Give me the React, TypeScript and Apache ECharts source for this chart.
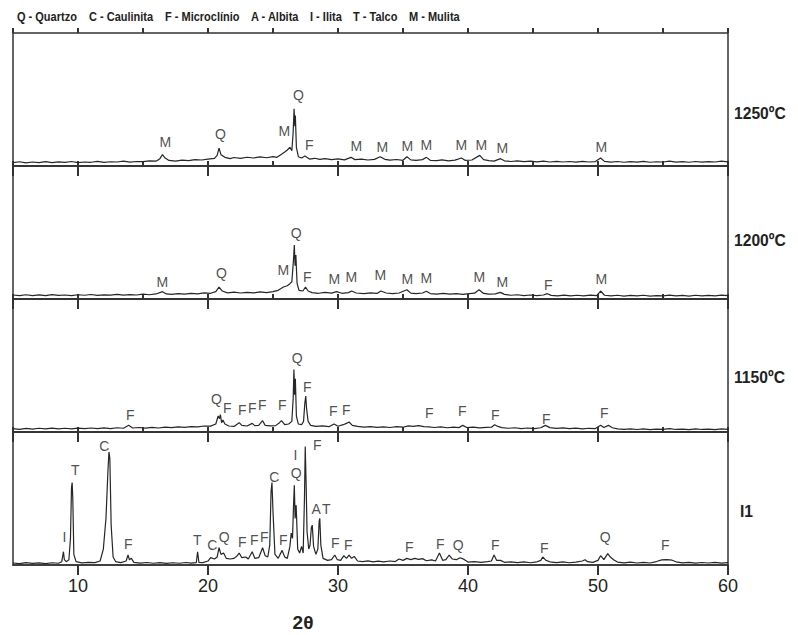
import React, { useEffect, useRef } from "react";
import * as echarts from "echarts";

const xTickLabels = [10, 20, 30, 40, 50, 60];
const panelNames = ["1250ºC", "1200ºC", "1150ºC", "I1"];
const legendItems = ["Q - Quartzo", "C - Caulinita", "F - Microclínio", "A - Albita", "I - Ilita", "T - Talco", "M - Mulita"];

const trace1250: number[][] = [[5,2.5],[5.5,3.2],[6,2.4],[6.5,3.0],[7,2.6],[7.5,3.3],[8,2.5],[8.5,3.1],[9,2.7],[9.5,3.4],[10,2.6],[10.5,3.0],[11,2.8],[11.5,3.5],[12,2.7],[12.5,3.2],[13,3.0],[13.5,3.6],[14,2.9],[14.5,3.4],[15,3.3],[15.5,3.9],[16,3.6],[16.3,5.5],[16.5,8.5],[16.7,6],[17,4.2],[17.5,3.6],[18,4.4],[18.5,4.0],[19,4.8],[19.5,4.5],[20,5.2],[20.5,5.8],[20.7,8],[20.85,13.5],[21,8.5],[21.3,6.5],[21.7,5.5],[22,6.4],[22.5,5.8],[23,6.6],[23.5,6.0],[24,6.8],[24.5,6.2],[25,7.0],[25.3,6.5],[25.6,8.5],[25.9,10.5],[26.1,12],[26.3,14],[26.45,11.5],[26.55,25],[26.62,43],[26.68,30],[26.72,38],[26.8,14],[26.95,7],[27.2,6],[27.45,7.5],[27.6,6.5],[27.8,5.2],[28.2,5.8],[28.6,5],[29,5.6],[29.5,4.8],[30,5.3],[30.5,4.6],[31,6.5],[31.3,4.8],[31.8,5.2],[32.3,4.5],[32.8,5],[33.25,7],[33.6,5],[34,4.4],[34.5,4.9],[35,4.3],[35.3,7],[35.6,4.6],[36,4.2],[36.5,4.8],[36.8,6.5],[37.1,4.3],[37.6,4.0],[38,4.6],[38.5,3.9],[39,4.4],[39.5,6],[39.8,4.2],[40.3,4.5],[40.9,8],[41.2,4.8],[41.6,4.1],[42,3.7],[42.5,5.5],[42.8,3.9],[43.3,3.4],[43.8,3.9],[44.3,3.3],[44.8,3.7],[45.3,3.1],[45.8,3.6],[46.3,3.0],[46.8,3.5],[47.3,3.0],[47.8,3.4],[48.3,2.9],[48.8,3.5],[49.3,3.0],[49.8,3.3],[50.2,6],[50.5,3.5],[51,2.9],[51.5,3.4],[52,2.8],[52.5,3.3],[53,2.9],[53.5,3.5],[54,2.8],[54.5,3.2],[55,3.0],[55.5,3.6],[56,2.9],[56.5,3.3],[57,2.8],[57.5,3.4],[58,2.9],[58.5,3.3],[59,3.0],[59.5,3.6],[60,3.1]];

const trace1200: number[][] = [[5,3],[5.5,2.5],[6,3.2],[6.5,2.6],[7,3.1],[7.5,2.5],[8,3.3],[8.5,2.7],[9,3.0],[9.5,2.6],[10,3.2],[10.5,2.8],[11,3.4],[11.5,2.7],[12,3.1],[12.5,2.9],[13,3.5],[13.5,2.9],[14,3.3],[14.5,3.0],[15,3.6],[15.5,3.2],[16,3.8],[16.5,5.5],[16.8,3.8],[17.2,3.5],[17.7,4.0],[18.2,3.6],[18.7,4.2],[19.2,3.9],[19.7,4.6],[20.2,4.3],[20.6,5.5],[20.85,9],[21.1,6],[21.5,4.6],[22,5.2],[22.5,4.5],[23,5.0],[23.5,4.6],[24,5.3],[24.5,4.8],[25,5.5],[25.4,6.5],[25.8,9],[26.1,10],[26.3,11.5],[26.45,13],[26.58,30],[26.64,40.5],[26.7,25],[26.76,33],[26.85,12],[27,6.5],[27.3,6],[27.5,9],[27.7,6],[28,4.8],[28.5,4.3],[29,5],[29.5,4.4],[29.9,5.5],[30.3,4.3],[30.8,4.8],[31.05,6],[31.4,4.5],[32,4.0],[32.5,4.6],[33,4.2],[33.3,6],[33.7,4.5],[34.2,4.0],[34.7,4.5],[35.3,7],[35.6,4.4],[36,4.0],[36.5,4.5],[36.8,5.8],[37.1,4.1],[37.6,3.7],[38.1,4.2],[38.6,3.6],[39.1,4.0],[39.6,3.5],[40.1,4.1],[40.5,4.4],[40.85,7],[41.2,4.2],[41.6,3.6],[42.1,3.9],[42.5,5],[42.8,3.5],[43.3,2.8],[43.8,3.2],[44.3,2.6],[44.8,3.0],[45.3,2.5],[45.8,3.0],[46.1,4],[46.4,2.7],[46.9,2.4],[47.4,2.9],[47.9,2.3],[48.4,2.8],[48.9,2.4],[49.4,2.9],[49.9,2.6],[50.2,6],[50.5,2.8],[51,2.3],[51.5,2.8],[52,2.2],[52.5,2.7],[53,2.3],[53.5,2.8],[54,2.2],[54.5,2.6],[55,2.3],[55.5,2.9],[56,2.3],[56.5,2.7],[57,2.2],[57.5,2.8],[58,2.3],[58.5,2.7],[59,2.4],[59.5,2.9],[60,2.5]];

const trace1150: number[][] = [[5,2.5],[5.5,2.0],[6,2.7],[6.5,2.2],[7,2.8],[7.5,2.3],[8,2.9],[8.5,2.4],[9,2.8],[9.5,2.3],[10,2.9],[10.5,2.5],[11,3.0],[11.5,2.5],[12,3.1],[12.5,2.6],[13,3.2],[13.5,2.8],[13.9,5],[14.2,3.0],[14.7,3.4],[15.2,2.9],[15.7,3.5],[16.2,3.0],[16.7,3.7],[17.2,3.3],[17.7,3.9],[18.2,3.5],[18.7,4.1],[19.2,3.8],[19.7,4.5],[20.2,4.4],[20.6,6],[20.78,12],[20.88,10],[20.95,13],[21.05,7],[21.15,9],[21.3,6],[21.6,4.5],[22,4.2],[22.4,7],[22.6,5],[23,4.5],[23.4,6.5],[23.6,4.8],[23.9,5],[24.2,8.5],[24.4,5],[24.8,4.6],[25.2,4.8],[25.5,7],[25.65,8.5],[25.9,5.5],[26.2,6],[26.45,8],[26.55,25],[26.61,47],[26.66,28],[26.72,40],[26.8,12],[26.95,6],[27.2,5.5],[27.35,8],[27.45,22],[27.52,27],[27.58,18],[27.7,8],[27.9,5],[28.3,4.2],[28.8,4.6],[29.3,4.0],[29.7,6],[30,4.3],[30.4,5.5],[30.65,6.5],[30.85,7.5],[31.1,5],[31.5,4.2],[32,3.6],[32.5,4.1],[33,3.5],[33.5,3.9],[34,3.4],[34.5,4.0],[35,3.6],[35.4,4.6],[35.8,4.2],[36.2,4.8],[36.6,4.0],[37,3.8],[37.4,3.4],[37.9,3.8],[38.4,3.2],[38.9,3.6],[39.3,3.3],[39.6,5],[39.9,3.4],[40.4,3.7],[40.9,3.1],[41.4,3.5],[41.8,3.6],[42.05,5.5],[42.3,4.2],[42.6,3.3],[43.1,2.8],[43.6,3.2],[44.1,2.6],[44.6,3.0],[45.1,2.6],[45.6,3.2],[45.95,5],[46.3,3.3],[46.8,2.7],[47.3,3.1],[47.8,2.5],[48.3,2.9],[48.8,2.4],[49.3,2.8],[49.8,2.6],[50.2,5],[50.45,3.4],[50.8,5],[51.1,3.2],[51.5,2.4],[52,2.0],[52.5,2.4],[53,1.9],[53.5,2.3],[54,1.8],[54.5,2.2],[55,2.0],[55.5,2.5],[56,1.9],[56.5,2.2],[57,1.8],[57.5,2.3],[58,1.9],[58.5,2.2],[59,1.8],[59.5,2.3],[60,2.0]];

const traceI1: number[][] = [[5,1.5],[5.5,1.0],[6,1.8],[6.5,1.2],[7,1.6],[7.5,1.1],[8,1.7],[8.5,1.3],[8.75,2.5],[8.88,10],[8.95,4],[9.1,2.5],[9.3,4],[9.42,20],[9.5,58],[9.55,62],[9.6,50],[9.68,8],[9.85,2.5],[10.3,1.6],[10.8,2.0],[11.3,1.8],[11.7,3],[11.95,12],[12.15,35],[12.3,70],[12.38,85],[12.45,80],[12.55,30],[12.7,6],[12.9,2.5],[13.3,1.8],[13.7,3],[13.85,7.5],[13.95,4],[14.1,5],[14.3,2],[14.8,1.4],[15.3,1.9],[15.8,1.3],[16.3,1.8],[16.8,1.2],[17.3,1.7],[17.8,1.3],[18.3,1.9],[18.7,1.4],[19.1,1.8],[19.2,10],[19.3,2],[19.6,1.8],[20.0,3],[20.2,5.5],[20.5,4.5],[20.7,6],[20.85,13],[21.0,8],[21.2,9],[21.4,5],[21.7,4.5],[22.0,5],[22.25,7],[22.4,9],[22.6,5.5],[22.9,6],[23.1,4.5],[23.4,10],[23.6,5],[23.9,5.5],[24.2,13],[24.4,7],[24.6,6],[24.75,15],[24.85,55],[24.92,62],[25.0,40],[25.15,8],[25.4,5],[25.7,11],[25.9,6],[26.1,5],[26.3,14],[26.4,24],[26.5,20],[26.58,45],[26.64,60],[26.7,35],[26.78,45],[26.9,12],[27.05,9],[27.2,14],[27.32,9],[27.42,50],[27.48,89],[27.55,60],[27.62,25],[27.75,12],[27.85,15],[27.95,28],[28.02,30],[28.12,14],[28.3,8],[28.45,12],[28.55,33],[28.6,35],[28.68,15],[28.85,5],[29.2,3.5],[29.5,4],[29.75,7.5],[29.95,4],[30.2,3.5],[30.45,7],[30.65,5],[30.85,7.5],[31.05,5],[31.25,6.5],[31.5,3],[31.9,2.5],[32.3,3.1],[32.7,2.4],[33.1,2.9],[33.5,2.3],[34.0,3.0],[34.4,2.6],[34.7,4.5],[35.0,3.5],[35.3,5],[35.6,4],[35.9,5],[36.2,4.2],[36.5,4.8],[36.8,3.2],[37.2,3.8],[37.5,3.0],[37.8,9],[38.05,3.5],[38.3,4],[38.55,7.5],[38.8,4.5],[39.1,4],[39.4,5.5],[39.7,4.2],[40.0,2.2],[40.5,2.6],[41.0,2.0],[41.5,2.5],[41.8,3],[42.0,7.5],[42.2,3.5],[42.5,3.5],[42.8,2.0],[43.3,2.4],[43.8,1.8],[44.3,2.3],[44.8,1.7],[45.3,2.4],[45.6,3.5],[45.75,6],[46.0,3.5],[46.3,2.4],[46.8,1.8],[47.3,2.3],[47.8,1.7],[48.3,2.2],[48.8,3],[49.0,4],[49.2,2.5],[49.6,2.0],[50.0,3.5],[50.2,7],[50.45,4],[50.75,8.5],[50.95,6],[51.2,4],[51.5,2.2],[52,1.6],[52.5,2.1],[53,1.5],[53.5,2.0],[54,1.5],[54.5,2.6],[54.9,3.8],[55.3,4],[55.7,3.6],[56,2.4],[56.5,1.6],[57,2.0],[57.5,1.4],[58,1.9],[58.5,1.5],[59,2.0],[59.5,1.4],[60,1.8]];

// peak annotations: [2θ, height, phase letter]
const peaks1250: [number, number, string][] = [[16.72,18,"M"],[20.96,24,"Q"],[25.87,26,"M"],[26.95,53.4,"Q"],[27.79,15.8,"F"],[31.41,15,"M"],[33.41,14.3,"M"],[35.33,15,"M"],[36.79,15.8,"M"],[39.48,15.8,"M"],[41.02,15.8,"M"],[42.64,13.5,"M"],[50.25,14.3,"M"]];
const peaks1200: [number, number, string][] = [[16.48,12.8,"M"],[21.04,19.5,"Q"],[25.79,21.8,"M"],[26.79,49.6,"Q"],[27.64,16.5,"F"],[29.72,15,"M"],[31.02,16.5,"M"],[33.25,18,"M"],[35.33,15,"M"],[36.79,15.8,"M"],[40.87,16.5,"M"],[42.64,12.8,"M"],[46.18,10.5,"F"],[50.25,15,"M"]];
const peaks1150: [number, number, string][] = [[14.02,12.8,"F"],[20.64,24.8,"Q"],[21.48,18,"F"],[22.64,16.5,"F"],[23.41,18,"F"],[24.18,20.3,"F"],[25.72,20.3,"F"],[26.87,55.6,"Q"],[27.64,33.8,"F"],[29.64,15.8,"F"],[30.64,16.5,"F"],[37.02,14.3,"F"],[39.56,15.8,"F"],[42.1,12.8,"F"],[46.02,9.8,"F"],[50.48,14.3,"F"]];
const peaksI1: [number, number, string][] = [[8.95,21.1,"I"],[9.79,71.4,"T"],[12.02,89.5,"C"],[13.87,15.8,"F"],[19.18,18.8,"T"],[20.33,15,"C"],[21.25,21.1,"Q"],[22.64,17.3,"F"],[23.56,18.8,"F"],[24.33,21.1,"F"],[25.1,66.2,"C"],[25.79,18.8,"F"],[26.72,82.7,"I"],[26.79,69.2,"Q"],[28.41,90.2,"F"],[28.33,42.1,"A"],[29.1,42.1,"T"],[29.79,16.5,"F"],[30.79,15,"F"],[35.48,13.5,"F"],[37.87,15.8,"F"],[39.25,15,"Q"],[42.1,15,"F"],[45.87,12.8,"F"],[50.56,21.1,"Q"],[55.18,15,"F"]];

const traces = [trace1250, trace1200, trace1150, traceI1];
const peakSets = [peaks1250, peaks1200, peaks1150, peaksI1];

const FONT = "'Liberation Sans', Arial, sans-serif";
const INK = "#262626";

export default function App() {
  const ref = useRef<HTMLDivElement>(null);
  useEffect(() => {
    if (!ref.current) return;
    const chart = echarts.init(ref.current, undefined, { renderer: "svg" });
    const tops = [33, 166, 299, 432];
    const grids = tops.map((t) => ({
      left: 13, width: 715, top: t, height: 133,
      show: true, borderColor: "#333", borderWidth: 1.5, backgroundColor: "transparent",
    }));
    const xAxes: any[] = [];
    tops.forEach((_, i) => {
      const isLast = i === tops.length - 1;
      xAxes.push({
        type: "value", gridIndex: i, min: 5, max: 60, splitNumber: 5,
        axisLine: { show: true, onZero: false, lineStyle: { color: "#333", width: 1.5 } },
        axisTick: { show: true, inside: false, length: 10, lineStyle: { color: "#333", width: 2 } },
        splitLine: { show: false },
        axisLabel: {
          show: isLast, showMinLabel: false, margin: 12,
          color: "#222", fontSize: 18, fontFamily: FONT,
          formatter: (v: number) => (xTickLabels.includes(v) ? String(v) : ""),
        },
      });
      xAxes.push({
        type: "value", gridIndex: i, min: 5, max: 60, interval: 5,
        axisLine: { show: false, onZero: false },
        axisTick: { show: true, inside: false, length: 5, lineStyle: { color: "#333", width: 2 } },
        splitLine: { show: false },
        axisLabel: { show: false },
      });
    });
    const yAxes = tops.map((_, i) => ({
      type: "value", gridIndex: i, min: 0, max: 100, show: false,
    }));
    const series: any[] = [];
    traces.forEach((tr, i) => {
      series.push({
        type: "line", xAxisIndex: i * 2, yAxisIndex: i, data: tr,
        showSymbol: false, symbol: "none", silent: true,
        lineStyle: { color: INK, width: 1.2 },
      });
    });
    peakSets.forEach((ps, i) => {
      series.push({
        type: "scatter", xAxisIndex: i * 2, yAxisIndex: i, silent: true,
        symbolSize: 1, itemStyle: { color: "rgba(0,0,0,0)" },
        data: ps.map((p) => ({ value: [p[0], p[1]], name: p[2] })),
        label: {
          show: true, position: "inside", formatter: (p: any) => p.name,
          color: "#222", fontSize: 14, fontFamily: FONT,
          textBorderWidth: 0, textBorderColor: "transparent",
        },
      });
    });
    const legendX = [17, 89, 165, 251, 310, 353, 409];
    const graphic: any[] = legendItems.map((t, k) => ({
      type: "text", x: legendX[k], y: 16, scaleX: 0.88,
      style: { text: t, font: `bold 12.5px ${FONT}`, fill: "#222", verticalAlign: "middle" },
    }));
    const nameY = [113, 240, 377, 511];
    panelNames.forEach((n, k) => {
      graphic.push({
        type: "text", x: n === "I1" ? 740 : 734, y: nameY[k], scaleX: 0.92,
        style: { text: n, font: `bold 17px ${FONT}`, fill: "#222", verticalAlign: "middle" },
      });
    });
    graphic.push({
      type: "text", x: 303, y: 622,
      style: { text: "2θ", font: `bold 19px ${FONT}`, fill: "#222", align: "center", verticalAlign: "middle" },
    });
    chart.setOption({
      animation: false,
      backgroundColor: "#fff",
      grid: grids,
      xAxis: xAxes,
      yAxis: yAxes,
      series,
      graphic,
    });
    return () => chart.dispose();
  }, []);
  return <div ref={ref} style={{ position: "fixed", left: 0, top: 0, width: 798, height: 635 }} />;
}
